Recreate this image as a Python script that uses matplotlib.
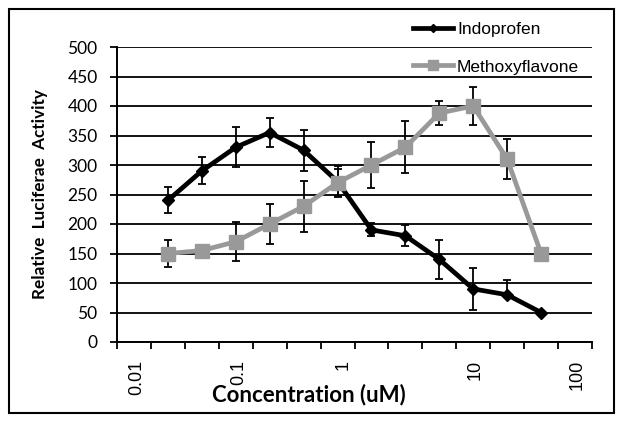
import matplotlib
matplotlib.use("Agg")
import matplotlib.pyplot as plt
import numpy as np
from matplotlib.patches import Rectangle

# values (Relative Luciferae Activity)
indoprofen = [240, 290, 330, 355, 325, 272, 190, 180, 140, 90, 80, 50]
indoprofen_err_lo = [22, 23, 34, 25, 35, 27, 11, 18, 33, 35, 0, 0]
indoprofen_err_hi = [22, 23, 34, 25, 35, 27, 11, 18, 33, 35, 25, 0]
methoxyflavone = [150, 155, 170, 200, 230, 270, 300, 330, 388, 400, 310, 150]
methoxyflavone_err = [23, 0, 33, 34, 43, 23, 39, 44, 21, 33, 34, 0]

conc_labels = ["0.01", "0.1", "1", "10", "100"]
conc_label_pos = [-0.91, 2.10, 5.16, 9.05, 12.06]  # where the labels sit on the category axis

BLACK = "#000000"
GRAY = "#999999"

fig = plt.figure(figsize=(6.24, 4.26), dpi=100)
ax = fig.add_axes([117 / 624, 84 / 426, 475 / 624, 295 / 426])

x = np.arange(len(indoprofen))

ax.errorbar(x, indoprofen, yerr=[indoprofen_err_lo, indoprofen_err_hi], fmt="none",
            ecolor=BLACK, elinewidth=1.3, capsize=3, capthick=1.3, zorder=2)
ax.errorbar(x, methoxyflavone, yerr=methoxyflavone_err, fmt="none",
            ecolor=BLACK, elinewidth=1.3, capsize=3, capthick=1.3, zorder=2)
ax.plot(x, indoprofen, color=BLACK, lw=3.4, marker="D", ms=6, mfc=BLACK, mec=BLACK,
        label="Indoprofen", zorder=3)
ax.plot(x, methoxyflavone, color=GRAY, lw=3.4, marker="s", ms=10.5, mfc=GRAY, mec=GRAY,
        label="Methoxyflavone", zorder=4)

ax.set_ylim(0, 500)
ax.set_yticks(np.arange(0, 501, 50))
ax.set_xlim(-1.5, 12.5)
ax.set_xticks(np.arange(-1.5, 12.6, 1.0))
ax.set_xticklabels([])
ax.set_xticks(conc_label_pos, conc_labels, minor=True)
ax.tick_params(axis="x", which="minor", length=0, pad=13, labelsize=13, labelrotation=90)
for lbl in ax.get_xticklabels(minor=True):
    lbl.set_fontfamily("Liberation Sans")
ax.tick_params(axis="x", which="major", direction="out", length=5, width=1.3, color=BLACK)
ax.tick_params(axis="y", direction="out", length=5, width=1.3, color=BLACK, pad=9, labelsize=12.5)
for lbl in ax.get_yticklabels():
    lbl.set_fontfamily("Lato")

ax.yaxis.grid(True, color=BLACK, lw=1.3)
ax.set_axisbelow(True)
ax.spines["top"].set_visible(False)
ax.spines["right"].set_visible(False)
ax.spines["left"].set_linewidth(1.4)
ax.spines["bottom"].set_linewidth(1.4)

fig.text(40 / 624, 1 - 194 / 426, "Relative  Luciferae  Activity", rotation=90,
         ha="center", va="center", fontsize=12.3, fontweight="bold", family="Lato")
fig.text(309 / 624, 1 - 395 / 426, "Concentration (uM)", ha="center", va="center",
         fontsize=16, fontweight="bold", family="Lato")

leg = ax.legend(loc="upper left", bbox_to_anchor=(404 / 624, 1 - 13 / 426),
                bbox_transform=fig.transFigure, frameon=False,
                handlelength=2.3, handletextpad=0.25, labelspacing=1.3, borderpad=0,
                markerscale=0.7, prop={"family": "Liberation Sans", "size": 12.5})

fig.add_artist(Rectangle((9 / 624, 13 / 426), 605 / 624, 404 / 426, fill=False,
                         lw=1.5, edgecolor=BLACK, transform=fig.transFigure))

fig.savefig("out.png", dpi=100, facecolor="white")
